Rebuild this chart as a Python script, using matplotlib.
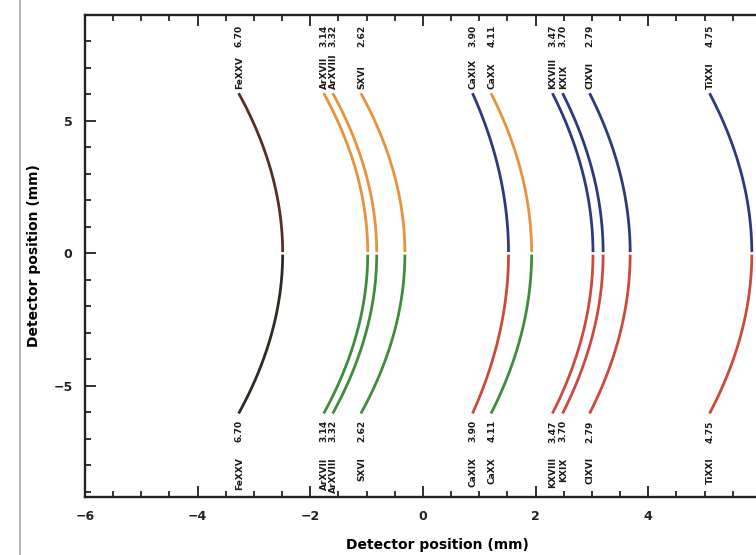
import numpy as np
import matplotlib.pyplot as plt
from matplotlib.lines import Line2D

# arc positions (mm): x at the vertex (y = 0) and x at the ends (y = +/-6)
vertex_x = [-2.49, -0.98, -0.82, -0.32, 1.52, 1.93, 3.02, 3.20, 3.68, 5.84]
end_x = [-3.26, -1.75, -1.59, -1.09, 0.89, 1.22, 2.31, 2.49, 2.97, 5.10]
half_len = 6.0

orange, green = '#e8923e', '#3f8c3f'
blue, red = '#2c3a7c', '#cb4a3e'
upper_col = ['#5b2b25', orange, orange, orange, blue, orange, blue, blue, blue, blue]
lower_col = ['#2e2a22', green, green, green, red, green, red, red, red, red]

# labels at the ends of each arc (name, energy)
line_names = ['FeXXV', 'ArXVII', 'ArXVIII', 'SXVI', 'CaXIX', 'CaXX', 'KXVIII', 'KXIX', 'ClXVI', 'TiXXI']
line_keV = ['6.70', '3.14', '3.32', '2.62', '3.90', '4.11', '3.47', '3.70', '2.79', '4.75']

fig = plt.figure(figsize=(7.56, 5.55), dpi=100)
ax = fig.add_axes([85 / 756, 58 / 555, 704 / 756, 482 / 555])

for xv, xe, cu, cl in zip(vertex_x, end_x, upper_col, lower_col):
    c = (xv - xe) / half_len ** 2
    yu = np.linspace(0.1, half_len, 80)
    ax.plot(xv - c * yu ** 2, yu, color=cu, lw=2)
    yl = np.linspace(-half_len, -0.1, 80)
    ax.plot(xv - c * yl ** 2, yl, color=cl, lw=2)

lab = dict(rotation=90, ha='center', fontsize=6.5, fontweight='bold', color='#1a1a1a')
for xe, name, kev in zip(end_x, line_names, line_keV):
    ax.text(xe, 6.2, name, va='bottom', **lab)
    ax.text(xe, 7.8, kev, va='bottom', **lab)
    ax.text(xe, -6.3, kev, va='top', **lab)
    ax.text(xe, -7.7, name, va='top', **lab)

ax.set_xlim(-6, 6.5)
ax.set_ylim(-9.2, 9.0)
ax.set_xticks([-6, -4, -2, 0, 2, 4, 6])
ax.set_xticks(np.arange(-6, 6.6, 0.5), minor=True)
ax.set_yticks([-5, 0, 5])
ax.set_yticks(np.arange(-9, 9.1, 1), minor=True)
ax.tick_params(which='both', direction='in', top=True, right=True, width=1.3, colors='#222222')
ax.tick_params(which='major', length=8, labelsize=9, pad=9)
ax.tick_params(which='minor', length=4)
for t in ax.get_xticklabels() + ax.get_yticklabels():
    t.set_fontweight('bold')
for s in ax.spines.values():
    s.set_linewidth(1.7)
    s.set_color('#222222')

ax.set_xlabel('Detector position (mm)', fontsize=10, fontweight='bold', labelpad=11)
ax.set_ylabel('Detector position (mm)', fontsize=10, fontweight='bold', labelpad=9)

# page edge of the scan
fig.add_artist(Line2D([20 / 756, 20 / 756], [0, 1], color='#b9aab4', lw=1.3))

fig.savefig('out.png', dpi=100)
